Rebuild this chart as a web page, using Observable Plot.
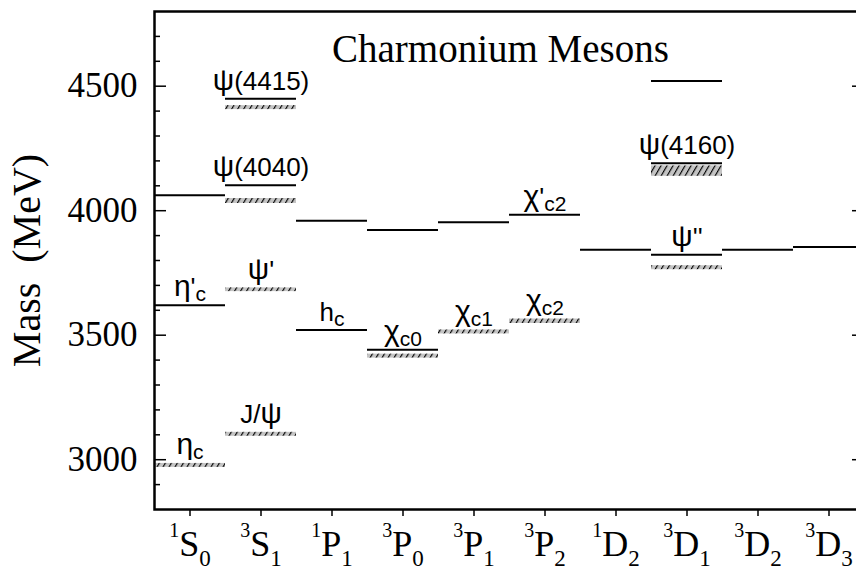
<!DOCTYPE html>
<html><head><meta charset="utf-8">
<script src="https://cdn.jsdelivr.net/npm/d3@7"></script>
<script src="https://cdn.jsdelivr.net/npm/@observablehq/plot@0.6"></script>
<style>
html,body{margin:0;padding:0;background:#fff;overflow:hidden}
svg{max-width:none !important}
</style>
</head><body><div id="chart"></div>
<script>
// ---- data ----
const stateLabels = ["^1S_0","^3S_1","^1P_1","^3P_0","^3P_1","^3P_2","^1D_2","^3D_1","^3D_2","^3D_3"];
const yTicks = [3000, 3500, 4000, 4500];
const yMinorTicks = [2900, 3100, 3200, 3300, 3400, 3600, 3700, 3800, 3900, 4100, 4200, 4300, 4400, 4600, 4700];
// predicted levels (solid lines)
const theoryState = [0, 0, 1, 1, 2, 2, 3, 3, 4, 5, 6, 7, 7, 7, 8, 9];
const theoryMass  = [3620, 4062, 4102, 4450, 3521, 3960, 3442, 3922, 3954, 3984, 3843, 3823, 4191, 4521, 3843, 3854];
// observed states (hatched bands)
const expState = [0, 1, 1, 1, 1, 3, 4, 5, 7, 7];
const expHigh  = [2985, 3110, 3690, 4049, 4422, 3424, 3521, 3565, 3779, 4180];
const expLow   = [2969, 3094, 3675, 4029, 4406, 3408, 3505, 3547, 3763, 4138];
// state names
const labelState = [0, 0, 1, 1, 1, 1, 2, 3, 4, 5, 5, 7, 7];
const labelText  = ["η_c", "η'_c", "J/ψ", "ψ'", "ψ(4040)", "ψ(4415)", "h_c", "χ_c0", "χ_c1", "χ_c2", "χ'_c2", "ψ''", "ψ(4160)"];
const labelMass  = [2985, 3620, 3110, 3690, 4102, 4450, 3521, 3442, 3521, 3565, 3984, 3823, 4191];
const title = "Charmonium Mesons";
const yLabel = "Mass\u00a0\u00a0(MeV)";

const serif = "Liberation Serif, Times New Roman, serif";
const sans = "Liberation Sans, Arial, sans-serif";

const theory = theoryState.map((s, i) => ({s, m: theoryMass[i]}));
const exps = expState.map((s, i) => ({s, hi: expHigh[i], lo: expLow[i]}));
const labels = labelState.map((s, i) => ({s, m: labelMass[i], t: labelText[i]}));
const idx = stateLabels.map((_, i) => i);

const W = 866, ML = 154, MR = 2;
const FW = W - ML - MR;

const svg = Plot.plot({
  width: W, height: 569,
  marginLeft: ML, marginRight: MR, marginTop: 11, marginBottom: 60,
  x: {type: "linear", domain: [-0.5, 9.5], axis: null},
  y: {domain: [2800, 4800], axis: null},
  style: {background: "white", color: "black"},
  marks: [
    Plot.rect(exps, {x1: d => d.s - 0.5, x2: d => d.s + 0.5, y1: "lo", y2: "hi", fill: "url(#hatch)"}),
    Plot.ruleY(theory, {y: "m", x1: d => d.s - 0.5, x2: d => d.s + 0.5, stroke: "black", strokeWidth: 2}),
    Plot.text(labels, {x: "s", y: "m", text: "t", lineAnchor: "bottom", dy: -9, fontSize: 26, fontFamily: sans, fill: "black"}),
    Plot.tickY(yMinorTicks, {y: d => d, insetRight: FW - 6, stroke: "black", strokeWidth: 1.5}),
    Plot.tickY(yTicks, {y: d => d, insetRight: FW - 12, stroke: "black", strokeWidth: 1.5}),
    Plot.tickY(yTicks, {y: d => d, insetLeft: FW - 12, stroke: "black", strokeWidth: 1.5}),
    Plot.axisY(yTicks, {anchor: "left", tickSize: 0, tickPadding: 17, tickFormat: d => String(d), fontSize: 35, fontFamily: serif, label: null}),
    Plot.axisX(idx, {anchor: "bottom", tickSize: 7, tickFormat: () => "", label: null, strokeWidth: 1.5}),
    Plot.text(idx, {x: d => d, frameAnchor: "bottom", dy: 46, lineAnchor: "bottom", text: d => stateLabels[d], fontSize: 36, fontFamily: serif, fill: "black"}),
    Plot.text([yLabel], {frameAnchor: "left", textAnchor: "middle", dx: -127, rotate: -90, fontSize: 40, fontFamily: serif, fill: "black"}),
    Plot.text([title], {frameAnchor: "top", dy: 50, dx: -9, lineAnchor: "bottom", fontSize: 39, fontFamily: serif, fill: "black"}),
    Plot.frame({stroke: "black", strokeWidth: 2.5})
  ]
});

// hatch pattern for observed states
const defs = d3.select(svg).insert("defs", ":first-child");
const pat = defs.append("pattern").attr("id", "hatch").attr("patternUnits", "userSpaceOnUse")
  .attr("width", 6).attr("height", 20).attr("patternTransform", "skewX(-30)");
pat.append("rect").attr("width", 6).attr("height", 20).attr("fill", "#c4c4c4");
pat.append("rect").attr("x", 0).attr("width", 1.3).attr("height", 20).attr("fill", "#000");

// rich text (super/subscripts)
const NS = "http://www.w3.org/2000/svg";
const GREEK = /[\u0370-\u03ff]/;
function richify(el, spec, family) {
  const markup = el.textContent;
  el.textContent = "";
  const runs = [];
  let sub = false;
  for (let i = 0; i < markup.length; i++) {
    const c = markup[i];
    if (c === "^") { runs.push({s: markup[++i], m: "sup"}); continue; }
    if (c === "_") { sub = true; continue; }
    const m = sub ? "sub" : (GREEK.test(c) ? "greek" : "n");
    const last = runs[runs.length - 1];
    if (last && last.m === m && m !== "sup") last.s += c; else runs.push({s: c, m});
  }
  let shift = 0;
  el.setAttribute("font-family", family);
  for (const r of runs) {
    const st = spec[r.m];
    const t = document.createElementNS(NS, "tspan");
    t.textContent = r.s;
    t.setAttribute("font-size", st.size);
    t.setAttribute("font-family", family);
    const d = st.shift - shift;
    if (d) t.setAttribute("dy", d);
    shift = st.shift;
    el.appendChild(t);
  }
}
const xSet = new Set(stateLabels), pSet = new Set(labelText);
d3.select(svg).selectAll("text").each(function () {
  const s = this.textContent;
  if (xSet.has(s)) richify(this, {n: {size: 36, shift: 0}, greek: {size: 36, shift: 0}, sup: {size: 20, shift: -19}, sub: {size: 23, shift: 10}}, serif);
  else if (pSet.has(s)) richify(this, {n: {size: 26, shift: 0}, greek: {size: 30, shift: 0}, sup: {size: 15, shift: -10}, sub: {size: 21, shift: 5}}, sans);
});

document.getElementById("chart").appendChild(svg);
</script>
</body></html>
